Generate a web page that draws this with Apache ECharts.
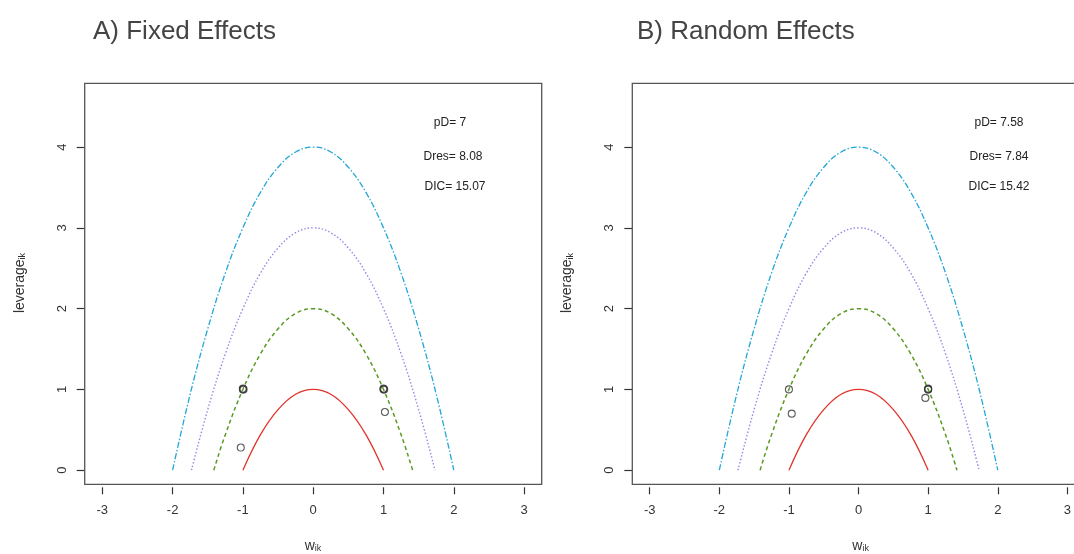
<!DOCTYPE html>
<html>
<head>
<meta charset="utf-8">
<script src="https://cdn.jsdelivr.net/npm/echarts@6/dist/echarts.min.js"></script>
<style>html,body{margin:0;padding:0;background:#fff;}#c{width:1074px;height:554px;}</style>
</head>
<body>
<div id="c"></div>
<script>
// ---- data ----
const xTicks = [-3, -2, -1, 0, 1, 2, 3];
const yTicks = [0, 1, 2, 3, 4];
const panelTitles = ['A) Fixed Effects', 'B) Random Effects'];
const statsA = ['pD= 7', 'Dres= 8.08', 'DIC= 15.07'];
const statsB = ['pD= 7.58', 'Dres= 7.84', 'DIC= 15.42'];

// parabola contours (leverage = c - w^2)
const c1W = [-1, -0.75, -0.5, -0.25, 0, 0.25, 0.5, 0.75, 1];
const c1Y = [0, 0.44, 0.75, 0.94, 1, 0.94, 0.75, 0.44, 0];
const c2W = [-1.414, -1.25, -1, -0.75, -0.5, -0.25, 0, 0.25, 0.5, 0.75, 1, 1.25, 1.414];
const c2Y = [0, 0.44, 1, 1.44, 1.75, 1.94, 2, 1.94, 1.75, 1.44, 1, 0.44, 0];
const c3W = [-1.732, -1.5, -1.25, -1, -0.75, -0.5, -0.25, 0, 0.25, 0.5, 0.75, 1, 1.25, 1.5, 1.732];
const c3Y = [0, 0.75, 1.44, 2, 2.44, 2.75, 2.94, 3, 2.94, 2.75, 2.44, 2, 1.44, 0.75, 0];
const c4W = [-2, -1.75, -1.5, -1.25, -1, -0.75, -0.5, -0.25, 0, 0.25, 0.5, 0.75, 1, 1.25, 1.5, 1.75, 2];
const c4Y = [0, 0.94, 1.75, 2.44, 3, 3.44, 3.75, 3.94, 4, 3.94, 3.75, 3.44, 3, 2.44, 1.75, 0.94, 0];

// observed points
const ptsAx = [-1.0, -1.0, -0.99, 1.0, 1.0, 1.01, 1.02, -1.03];
const ptsAy = [1.0, 1.01, 1.0, 1.0, 1.01, 1.0, 0.72, 0.28];
const ptsBx = [-1.0, -0.96, 1.0, 1.0, 1.0, 0.96];
const ptsBy = [1.0, 0.70, 1.0, 1.01, 1.0, 0.895];

// ---- chart ----
const FONT = '"Liberation Sans", Arial, sans-serif';
const zip = (a, b) => a.map((v, i) => [v, b[i]]);
const curves = [
  {w: c1W, y: c1Y, color: '#e0342c', type: 'solid', width: 1.3},
  {w: c2W, y: c2Y, color: '#5a9a24', type: [4, 3], width: 1.5},
  {w: c3W, y: c3Y, color: '#9d86e6', type: [1.5, 2], width: 1.4},
  {w: c4W, y: c4Y, color: '#22a6d8', type: [6, 2, 1.5, 2], width: 1.3}
];
// panel B's frame runs past the right edge of the window; its visible part is 441.7px wide
const grids = [
  {left: 84.7, top: 83.3, width: 457, height: 401},
  {left: 632.3, top: 83.3, width: 441.7, height: 401}
];
const xMax = [3.25, -3.25 + 441.7 * 6.5 / 457];
const boxW = [457, 457];
const xAxes = [], yAxes = [], series = [];
grids.forEach((g, i) => {
  xAxes.push({
    type: 'value', gridIndex: i, min: -3.25, max: xMax[i], offset: 3,
    axisLine: {show: false, onZero: false},
    axisTick: {show: true, length: 7, customValues: xTicks, lineStyle: {color: '#333', width: 1.2}},
    axisLabel: {customValues: xTicks, margin: 17, fontSize: 13, color: '#333', fontFamily: FONT,
      showMinLabel: true, showMaxLabel: true},
    splitLine: {show: false}
  });
  yAxes.push({
    type: 'value', gridIndex: i, min: -0.175, max: 4.79,
    axisLine: {show: false, onZero: false},
    axisTick: {show: true, length: 8, customValues: yTicks, lineStyle: {color: '#333', width: 1.2}},
    axisLabel: {customValues: yTicks, margin: 16, rotate: 90, fontSize: 13, color: '#333', fontFamily: FONT},
    splitLine: {show: false}
  });
  curves.forEach(c => {
    series.push({
      type: 'line', xAxisIndex: i, yAxisIndex: i, data: zip(c.w, c.y),
      smooth: 0.4, showSymbol: false, silent: true,
      lineStyle: {color: c.color, type: c.type, width: c.width}
    });
  });
  const px = i === 0 ? ptsAx : ptsBx, py = i === 0 ? ptsAy : ptsBy;
  series.push({
    type: 'scatter', xAxisIndex: i, yAxisIndex: i, data: zip(px, py),
    symbol: 'circle', symbolSize: 7,
    itemStyle: {color: 'rgba(0,0,0,0)', borderColor: '#333', borderWidth: 1.1}
  });
});

const graphics = [];
const offs = [0, 547.6];
panelTitles.forEach((t, i) => {
  graphics.push({type: 'text', left: [93, 637][i], top: 19,
    style: {text: t, font: '26px ' + FONT, fill: '#444'}});
  // y axis title
  graphics.push({type: 'text', x: 20 + offs[i], y: 283, rotation: Math.PI / 2,
    style: {text: 'leverage{s|ik}', align: 'center', verticalAlign: 'middle', fill: '#333',
      font: '14px ' + FONT, rich: {s: {fontSize: 9, fill: '#333', fontFamily: FONT, verticalAlign: 'bottom', padding: [6, 0, 0, 0]}}}});
  // x axis title
  graphics.push({type: 'text', x: 313 + offs[i], y: 546,
    style: {text: 'w{s|ik}', align: 'center', verticalAlign: 'middle', fill: '#333',
      font: '14px ' + FONT, rich: {s: {fontSize: 9, fill: '#333', fontFamily: FONT, padding: [6, 0, 0, 0]}}}});
});
const statPos = [[450, 453, 455], [999, 999, 999]];
const statY = [123, 157, 187];
[statsA, statsB].forEach((st, i) => {
  st.forEach((s, j) => {
    graphics.push({type: 'text', x: statPos[i][j], y: statY[j],
      style: {text: s, align: 'center', verticalAlign: 'middle', font: '12px ' + FONT, fill: '#222'}});
  });
});
// boxes
grids.forEach((g, i) => {
  graphics.push({type: 'rect', shape: {x: g.left, y: g.top, width: boxW[i], height: g.height},
    style: {fill: 'none', stroke: '#555', lineWidth: 1.3}, silent: true, z: 10});
});

const chart = echarts.init(document.getElementById('c'));
chart.setOption({
  animation: false,
  backgroundColor: '#fff',
  grid: grids,
  xAxis: xAxes,
  yAxis: yAxes,
  series: series,
  graphic: graphics
});
</script>
</body>
</html>
